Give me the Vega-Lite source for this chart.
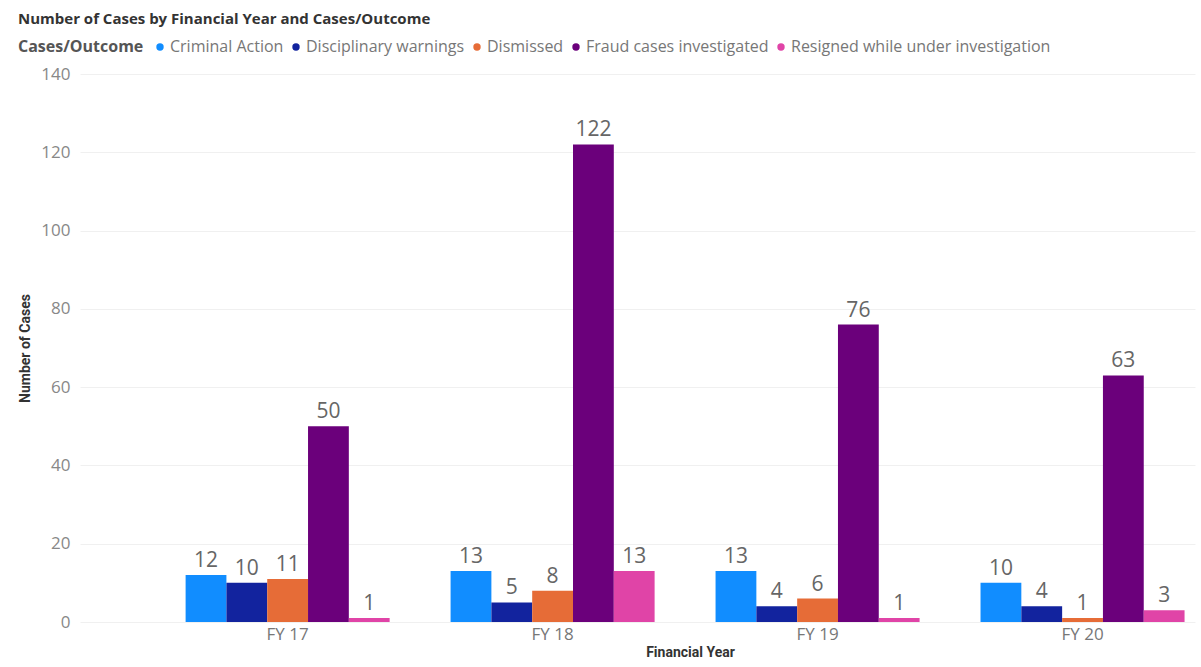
{
  "$schema": "https://vega.github.io/schema/vega-lite/v6.json",
  "width": 1115,
  "height": 548,
  "autosize": {"type": "none"},
  "padding": {"left": 80, "top": 74, "right": 6, "bottom": 45},
  "background": "#ffffff",
  "title": {
    "text": "Number of Cases by Financial Year and Cases/Outcome",
    "anchor": "start",
    "frame": "group",
    "dx": -62,
    "dy": -8,
    "font": "Open Sans",
    "fontSize": 15,
    "fontWeight": "bold",
    "color": "#333333"
  },
  "config": {
    "view": {"stroke": null},
    "font": "Open Sans"
  },
  "data": {
    "values": [
      {"year": "FY 17", "outcome": "Criminal Action", "cases": 12},
      {"year": "FY 17", "outcome": "Disciplinary warnings", "cases": 10},
      {"year": "FY 17", "outcome": "Dismissed", "cases": 11},
      {"year": "FY 17", "outcome": "Fraud cases investigated", "cases": 50},
      {"year": "FY 17", "outcome": "Resigned while under investigation", "cases": 1},
      {"year": "FY 18", "outcome": "Criminal Action", "cases": 13},
      {"year": "FY 18", "outcome": "Disciplinary warnings", "cases": 5},
      {"year": "FY 18", "outcome": "Dismissed", "cases": 8},
      {"year": "FY 18", "outcome": "Fraud cases investigated", "cases": 122},
      {"year": "FY 18", "outcome": "Resigned while under investigation", "cases": 13},
      {"year": "FY 19", "outcome": "Criminal Action", "cases": 13},
      {"year": "FY 19", "outcome": "Disciplinary warnings", "cases": 4},
      {"year": "FY 19", "outcome": "Dismissed", "cases": 6},
      {"year": "FY 19", "outcome": "Fraud cases investigated", "cases": 76},
      {"year": "FY 19", "outcome": "Resigned while under investigation", "cases": 1},
      {"year": "FY 20", "outcome": "Criminal Action", "cases": 10},
      {"year": "FY 20", "outcome": "Disciplinary warnings", "cases": 4},
      {"year": "FY 20", "outcome": "Dismissed", "cases": 1},
      {"year": "FY 20", "outcome": "Fraud cases investigated", "cases": 63},
      {"year": "FY 20", "outcome": "Resigned while under investigation", "cases": 3}
    ]
  },
  "encoding": {
    "x": {
      "field": "year",
      "type": "nominal",
      "title": "Financial Year",
      "scale": {"paddingInner": 0.23, "paddingOuter": 0.219, "align": 0.91},
      "axis": {
        "labelAngle": 0,
        "domain": false,
        "ticks": false,
        "labelPadding": 4,
        "labelFontSize": 17,
        "labelColor": "#777777",
        "titleFontSize": 14,
        "titleFontWeight": "bold",
        "titleColor": "#333333",
        "titlePadding": 3,
        "titleFont": "Roboto",
        "titleX": 610
      }
    },
    "xOffset": {"field": "outcome", "type": "nominal", "scale": {"paddingInner": 0, "paddingOuter": 0}},
    "y": {
      "field": "cases",
      "type": "quantitative",
      "title": "Number of Cases",
      "scale": {"domain": [0, 140]},
      "axis": {
        "values": [0, 20, 40, 60, 80, 100, 120, 140],
        "domain": false,
        "ticks": false,
        "labelPadding": 10,
        "labelFontSize": 17,
        "labelColor": "#888888",
        "gridColor": "#f0f0f0",
        "gridWidth": 1,
        "titleFontSize": 14,
        "titleFontWeight": "bold",
        "titleColor": "#333333",
        "titlePadding": 8,
        "titleFont": "Roboto"
      }
    }
  },
  "layer": [
    {
      "mark": {"type": "bar"},
      "encoding": {
        "color": {
          "field": "outcome",
          "type": "nominal",
          "title": "Cases/Outcome",
          "scale": {
            "domain": ["Criminal Action", "Disciplinary warnings", "Dismissed", "Fraud cases investigated", "Resigned while under investigation"],
            "range": ["#118DFF", "#12239E", "#E66C37", "#6B007B", "#E044A7"]
          },
          "legend": {
            "orient": "none",
            "legendX": -62,
            "legendY": -35,
            "direction": "horizontal",
            "columns": 5,
            "titleOrient": "left",
            "titleFontSize": 16,
            "titleFontWeight": "bold",
            "titleColor": "#555555",
            "titlePadding": 8,
            "titleFont": "Open Sans",
            "labelFontSize": 16,
            "labelLimit": 500,
            "labelColor": "#777777",
            "symbolType": "circle",
            "symbolSize": 55,
            "symbolStrokeWidth": 0,
            "labelOffset": 2,
            "columnPadding": 4
          }
        }
      }
    },
    {
      "mark": {"type": "text", "dy": -4, "fontSize": 21, "color": "#666666", "baseline": "bottom"},
      "encoding": {
        "text": {"field": "cases", "type": "quantitative"}
      }
    }
  ]
}
